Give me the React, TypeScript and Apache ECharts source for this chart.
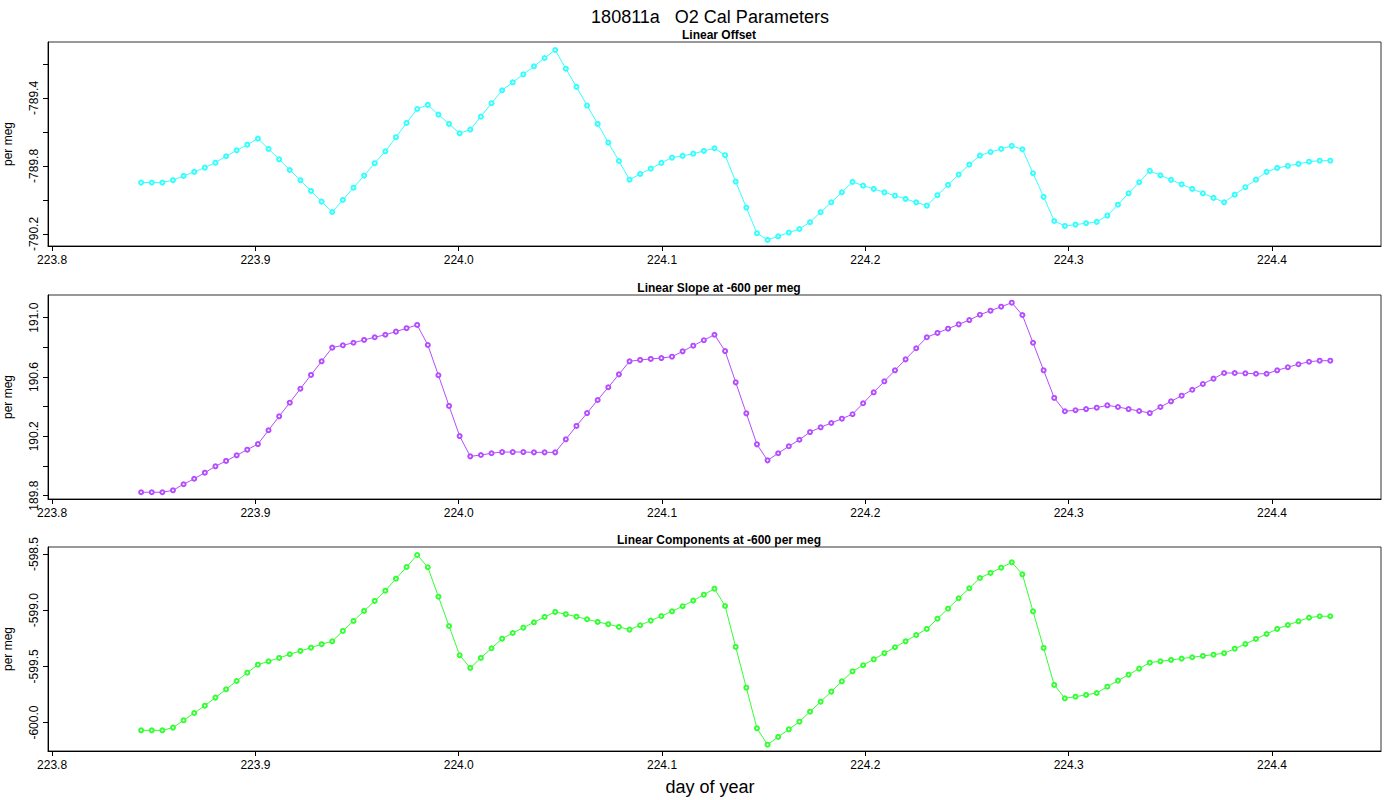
import { useRef, useEffect } from "react";
import * as echarts from "echarts";

// day of year, ~7.5 min step
const X0 = 223.8438;
const STEP = 0.005222;

const offsetValues = [
  -789.898, -789.898, -789.898, -789.884, -789.859, -789.835, -789.81, -789.781, -789.743, -789.708,
  -789.675, -789.639, -789.7, -789.761, -789.824, -789.884, -789.947, -790.01, -790.071, -790.0,
  -789.928, -789.857, -789.784, -789.714, -789.631, -789.547, -789.465, -789.441, -789.498, -789.553,
  -789.608, -789.586, -789.51, -789.431, -789.355, -789.308, -789.261, -789.214, -789.165, -789.118,
  -789.228, -789.335, -789.445, -789.553, -789.663, -789.771, -789.881, -789.847, -789.816, -789.782,
  -789.751, -789.741, -789.728, -789.712, -789.696, -789.737, -789.892, -790.045, -790.196, -790.235,
  -790.214, -790.192, -790.171, -790.131, -790.072, -790.014, -789.955, -789.894, -789.916, -789.935,
  -789.955, -789.975, -789.994, -790.014, -790.034, -789.972, -789.912, -789.851, -789.792, -789.739,
  -789.718, -789.7, -789.682, -789.702, -789.843, -789.982, -790.124, -790.153, -790.145, -790.137,
  -790.129, -790.092, -790.028, -789.961, -789.896, -789.829, -789.855, -789.882, -789.908, -789.935,
  -789.961, -789.988, -790.014, -789.969, -789.925, -789.881, -789.835, -789.812, -789.8, -789.788,
  -789.775, -789.769, -789.769,
];

const slopeValues = [
  189.823, 189.823, 189.823, 189.836, 189.877, 189.914, 189.955, 189.998, 190.034, 190.072,
  190.11, 190.148, 190.241, 190.335, 190.427, 190.521, 190.614, 190.706, 190.798, 190.814,
  190.831, 190.85, 190.868, 190.885, 190.906, 190.929, 190.951, 190.816, 190.612, 190.405,
  190.202, 190.065, 190.074, 190.086, 190.094, 190.094, 190.094, 190.092, 190.092, 190.092,
  190.18, 190.27, 190.357, 190.445, 190.531, 190.618, 190.706, 190.715, 190.722, 190.728,
  190.737, 190.773, 190.811, 190.848, 190.885, 190.775, 190.564, 190.355, 190.146, 190.038,
  190.086, 190.133, 190.177, 190.229, 190.261, 190.29, 190.319, 190.349, 190.423, 190.497,
  190.571, 190.645, 190.719, 190.794, 190.868, 190.897, 190.926, 190.955, 190.984, 191.02,
  191.047, 191.074, 191.101, 191.018, 190.831, 190.645, 190.459, 190.369, 190.376, 190.384,
  190.393, 190.409, 190.398, 190.384, 190.371, 190.357, 190.398, 190.436, 190.474, 190.514,
  190.553, 190.589, 190.627, 190.627, 190.625, 190.622, 190.622, 190.645, 190.666, 190.686,
  190.703, 190.71, 190.71,
];

const componentValues = [
  -600.069, -600.069, -600.069, -600.045, -599.98, -599.915, -599.85, -599.778, -599.704, -599.63,
  -599.556, -599.485, -599.455, -599.425, -599.392, -599.363, -599.334, -599.303, -599.277, -599.185,
  -599.096, -599.007, -598.918, -598.827, -598.72, -598.616, -598.509, -598.618, -598.88, -599.141,
  -599.401, -599.514, -599.425, -599.339, -599.254, -599.203, -599.156, -599.108, -599.06, -599.016,
  -599.036, -599.058, -599.081, -599.105, -599.125, -599.149, -599.173, -599.134, -599.093, -599.052,
  -599.01, -598.965, -598.915, -598.862, -598.809, -598.963, -599.327, -599.69, -600.051, -600.197,
  -600.128, -600.06, -599.992, -599.903, -599.814, -599.725, -599.633, -599.544, -599.49, -599.437,
  -599.383, -599.33, -599.277, -599.221, -599.167, -599.076, -598.987, -598.894, -598.805, -598.714,
  -598.669, -598.622, -598.574, -598.681, -599.01, -599.336, -599.665, -599.784, -599.77, -599.754,
  -599.737, -599.681, -599.627, -599.574, -599.52, -599.467, -599.455, -599.443, -599.431, -599.419,
  -599.407, -599.396, -599.383, -599.343, -599.301, -599.256, -599.212, -599.167, -599.132, -599.099,
  -599.067, -599.054, -599.054,
];

const xTicks = [223.8, 223.9, 224.0, 224.1, 224.2, 224.3, 224.4];
const offsetTicks = [-790.2, -790.0, -789.8, -789.6, -789.4, -789.2];
const offsetLabels = [-790.2, -789.8, -789.4];
const slopeTicks = [189.8, 190.0, 190.2, 190.4, 190.6, 190.8, 191.0];
const slopeLabels = [189.8, 190.2, 190.6, 191.0];
const compTicks = [-600.0, -599.5, -599.0, -598.5];

const titles = ["Linear Offset", "Linear Slope at -600 per meg", "Linear Components at -600 per meg"];
const colors = ["#33ffff", "#b44cff", "#33ff33"];

const FONT = "Liberation Sans, Arial, sans-serif";

const panels = [
  { top: 42, min: -790.271, max: -789.071, ticks: offsetTicks, labels: offsetLabels, data: offsetValues },
  { top: 295, min: 189.7775, max: 191.153, ticks: slopeTicks, labels: slopeLabels, data: slopeValues },
  { top: 547, min: -600.253, max: -598.438, ticks: compTicks, labels: compTicks, data: componentValues },
];

const buildOption = () => ({
  animation: false,
  title: [
    { text: "180811a   O2 Cal Parameters", left: 705, top: 3, textAlign: "center",
      textStyle: { fontFamily: FONT, fontSize: 18, fontWeight: "normal", color: "#000" } },
    { text: "day of year", left: 705, top: 773, textAlign: "center",
      textStyle: { fontFamily: FONT, fontSize: 18, fontWeight: "normal", color: "#000" } },
    ...titles.map((t, i) => ({
      text: t, left: 714, top: panels[i].top - 18, textAlign: "center",
      textStyle: { fontFamily: FONT, fontSize: 12, fontWeight: "bold", color: "#000" },
    })),
  ],
  grid: panels.map((p) => ({
    left: 48, width: 1333, top: p.top, height: 204, outerBoundsMode: "none", containLabel: false,
    show: true, borderColor: "#333", borderWidth: 1, backgroundColor: "transparent",
  })),
  xAxis: panels.map((_, i) => ({
    type: "value", gridIndex: i, min: 223.798, max: 224.4536,
    axisLine: { show: true, lineStyle: { color: "#000" } },
    splitLine: { show: false },
    axisTick: { show: true, length: 5, customValues: xTicks, lineStyle: { color: "#000" } },
    axisLabel: { customValues: xTicks, formatter: (v: number) => v.toFixed(1), color: "#000",
      fontFamily: FONT, fontSize: 12, margin: 8 },
  })),
  yAxis: panels.map((p, i) => ({
    type: "value", gridIndex: i, min: p.min, max: p.max,
    name: "per meg", nameLocation: "middle", nameRotate: 90, nameGap: 34,
    nameTextStyle: { fontFamily: FONT, fontSize: 12, color: "#000" },
    axisLine: { show: true, lineStyle: { color: "#000" } },
    splitLine: { show: false },
    axisTick: { show: true, length: 5, customValues: p.ticks, lineStyle: { color: "#000" } },
    axisLabel: { customValues: p.labels, rotate: 90, formatter: (v: number) => v.toFixed(1),
      color: "#000", fontFamily: FONT, fontSize: 12, margin: 8 },
  })),
  series: panels.map((p, i) => ({
    type: "line", xAxisIndex: i, yAxisIndex: i,
    data: p.data.map((v, k) => [X0 + k * STEP, v]),
    symbol: "emptyCircle", symbolSize: 4,
    lineStyle: { color: colors[i], width: 1 },
    itemStyle: { color: colors[i], borderWidth: 1 },
  })),
});

const App = () => {
  const chartRef = useRef<HTMLDivElement>(null);

  useEffect(() => {
    const myChart = echarts.init(chartRef.current, null, { renderer: "svg" });
    myChart.setOption(buildOption());
    return () => {
      myChart.dispose();
    };
  }, []);

  return (
    <div
      ref={chartRef}
      style={{ position: "fixed", left: 0, top: 0, width: "1400px", height: "800px", background: "#fff" }}
    ></div>
  );
};

export default App;
